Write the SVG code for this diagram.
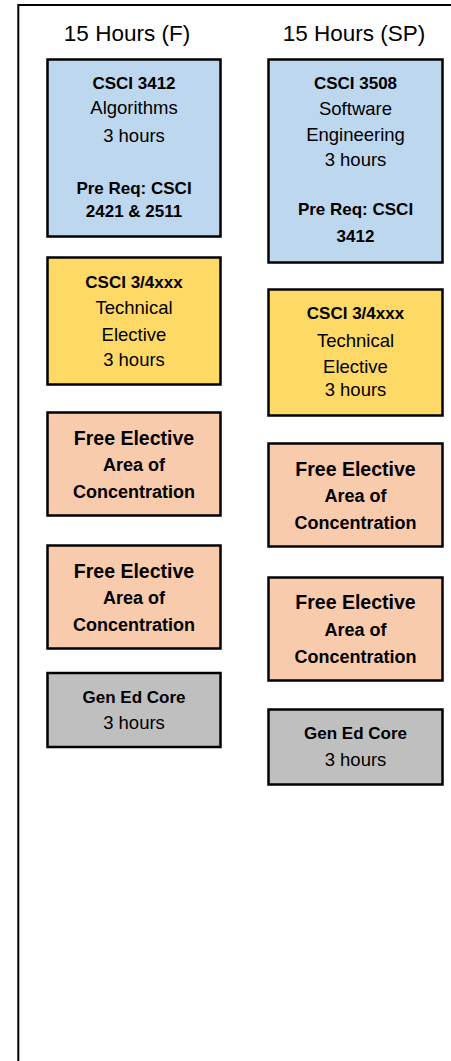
<svg xmlns="http://www.w3.org/2000/svg" width="451" height="1061" viewBox="0 0 451 1061">
<style>
.frame{fill:none;stroke:#000;stroke-width:2}
.box{stroke:#000;stroke-width:2.5}
.blue{fill:#BDD7EE}.yellow{fill:#FFD966}.orange{fill:#F8CBAD}.gray{fill:#BFBFBF}
text{font-family:"Liberation Sans",Arial,sans-serif;fill:#000;text-anchor:middle}
.h{font-size:22.5px}
.b{font-size:17px;font-weight:bold}
.r{font-size:18.5px}
.fe{font-size:19.5px;font-weight:bold}
.ac{font-size:18px;font-weight:bold}
</style>
<rect width="451" height="1061" fill="#fff"/>
<rect class="frame" x="18.3" y="5" width="500" height="1100"/>
<g id="header-f"><text class="h" x="127" y="41">15 Hours (F)</text></g>
<g id="header-sp"><text class="h" x="354" y="41">15 Hours (SP)</text></g>
<g id="connectors"></g>
<g id="csci3412">
<rect class="box blue" x="47.5" y="59.5" width="173" height="177"/>
<text class="b" x="134" y="89">CSCI 3412</text>
<text class="r" x="134" y="114">Algorithms</text>
<text class="r" x="134" y="142">3 hours</text>
<text class="b" x="134" y="194">Pre Req: CSCI</text>
<text class="b" x="134" y="217">2421 &amp; 2511</text>
</g>
<g id="tech-f">
<rect class="box yellow" x="47.5" y="257.5" width="173" height="127"/>
<text class="b" x="134" y="288">CSCI 3/4xxx</text>
<text class="r" x="134" y="314">Technical</text>
<text class="r" x="134" y="341">Elective</text>
<text class="r" x="134" y="366">3 hours</text>
</g>
<g id="free-f1">
<rect class="box orange" x="47.5" y="412.5" width="173" height="103"/>
<text class="fe" x="134" y="445">Free Elective</text>
<text class="ac" x="134" y="471">Area of</text>
<text class="ac" x="134" y="498">Concentration</text>
</g>
<g id="free-f2">
<rect class="box orange" x="47.5" y="545.5" width="173" height="103"/>
<text class="fe" x="134" y="578">Free Elective</text>
<text class="ac" x="134" y="604">Area of</text>
<text class="ac" x="134" y="631">Concentration</text>
</g>
<g id="gened-f">
<rect class="box gray" x="47.5" y="673" width="173" height="74"/>
<text class="b" x="134" y="703">Gen Ed Core</text>
<text class="r" x="134" y="729">3 hours</text>
</g>
<g id="csci3508">
<rect class="box blue" x="268.5" y="59.5" width="174" height="203"/>
<text class="b" x="355.5" y="89">CSCI 3508</text>
<text class="r" x="355.5" y="115">Software</text>
<text class="r" x="355.5" y="141">Engineering</text>
<text class="r" x="355.5" y="166">3 hours</text>
<text class="b" x="355.5" y="215">Pre Req: CSCI</text>
<text class="b" x="355.5" y="242">3412</text>
</g>
<g id="tech-sp">
<rect class="box yellow" x="268.5" y="289.5" width="174" height="126"/>
<text class="b" x="355.5" y="319">CSCI 3/4xxx</text>
<text class="r" x="355.5" y="347">Technical</text>
<text class="r" x="355.5" y="373">Elective</text>
<text class="r" x="355.5" y="396">3 hours</text>
</g>
<g id="free-sp1">
<rect class="box orange" x="268.5" y="443.5" width="174" height="103"/>
<text class="fe" x="355.5" y="476">Free Elective</text>
<text class="ac" x="355.5" y="502">Area of</text>
<text class="ac" x="355.5" y="529">Concentration</text>
</g>
<g id="free-sp2">
<rect class="box orange" x="268.5" y="577.5" width="174" height="103"/>
<text class="fe" x="355.5" y="609">Free Elective</text>
<text class="ac" x="355.5" y="636">Area of</text>
<text class="ac" x="355.5" y="663">Concentration</text>
</g>
<g id="gened-sp">
<rect class="box gray" x="268.5" y="709.5" width="174" height="75"/>
<text class="b" x="355.5" y="739">Gen Ed Core</text>
<text class="r" x="355.5" y="766">3 hours</text>
</g>
</svg>
